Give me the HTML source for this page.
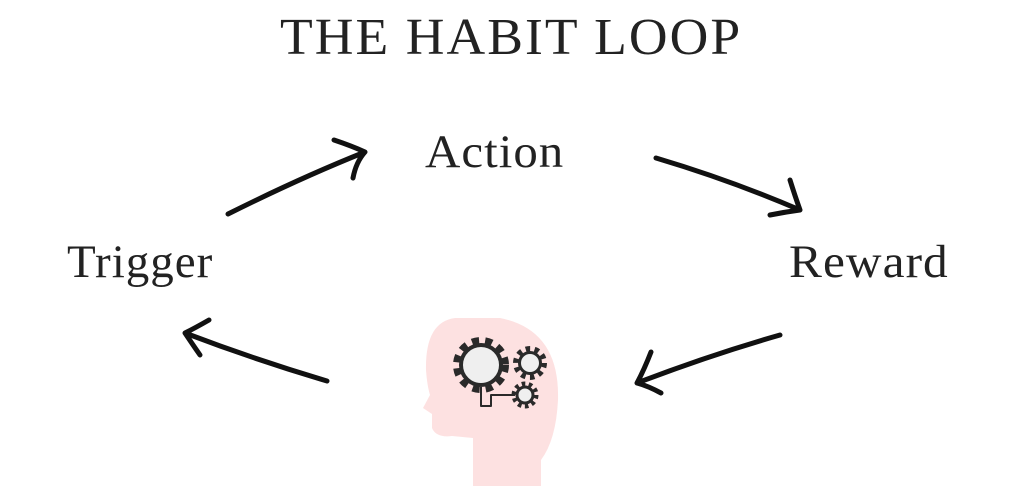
<!DOCTYPE html>
<html><head><style>
body{margin:0;width:1024px;height:486px;background:#fff;overflow:hidden;position:relative;font-family:"Liberation Serif",serif;color:#222}
.t{position:absolute;white-space:nowrap;line-height:1;transform-origin:0 0}
</style></head><body>
<div class="t" style="left:280px;top:12px;font-size:52px;letter-spacing:2px;transform:scaleX(1.03)">THE HABIT LOOP</div>
<div class="t" style="left:425px;top:129px;font-size:47px;letter-spacing:1px;transform:scaleX(1.04)">Action</div>
<div class="t" style="left:67px;top:239px;font-size:47px;letter-spacing:1px;transform:scaleX(1.0)">Trigger</div>
<div class="t" style="left:789px;top:239px;font-size:47px;letter-spacing:1px;transform:scaleX(1.05)">Reward</div>
<svg width="1024" height="486" style="position:absolute;left:0;top:0" fill="none" stroke="#111" stroke-width="5" stroke-linecap="round" stroke-linejoin="round">
<path d="M228 214 Q300 178 365 152 M334 140 Q352 146 365 152 Q356 162 353 178"/>
<path d="M656 158 Q730 180 800 210 M790 180 Q795 196 800 210 Q785 212 770 215"/>
<path d="M780 335 Q710 355 637 383 M651 352 Q644 370 637 383 Q648 386 661 393"/>
<path d="M327 381 Q256 360 185 333 M209 320 Q195 328 185 333 Q193 345 200 355"/>
<path d="M455 318 Q425 322 426 370 Q427 385 430 395 L423 408 L432 414 L432 428 Q436 438 452 436 L473 438 L473 486 L541 486 L541 460 Q556 440 558 400 Q560 330 500 318 Z" fill="#fde1e1" stroke="none"/>
<g stroke="#2a2a2a" stroke-linecap="butt">
<circle cx="481" cy="365" r="24" stroke-width="8" stroke-dasharray="7 6" fill="none"/>
<circle cx="481" cy="365" r="20" fill="#efefef" stroke-width="4"/>
<circle cx="530" cy="363" r="14" stroke-width="6" stroke-dasharray="4.4 4.4"/>
<circle cx="530" cy="363" r="10.5" fill="#efefef" stroke-width="3"/>
<circle cx="525" cy="395" r="11" stroke-width="5" stroke-dasharray="3.5 3.4"/>
<circle cx="525" cy="395" r="8" fill="#efefef" stroke-width="3"/>
<path d="M481 387 V406 H491 V395 H515" stroke-width="2" fill="none"/>
</g>
</svg>
</body></html>
